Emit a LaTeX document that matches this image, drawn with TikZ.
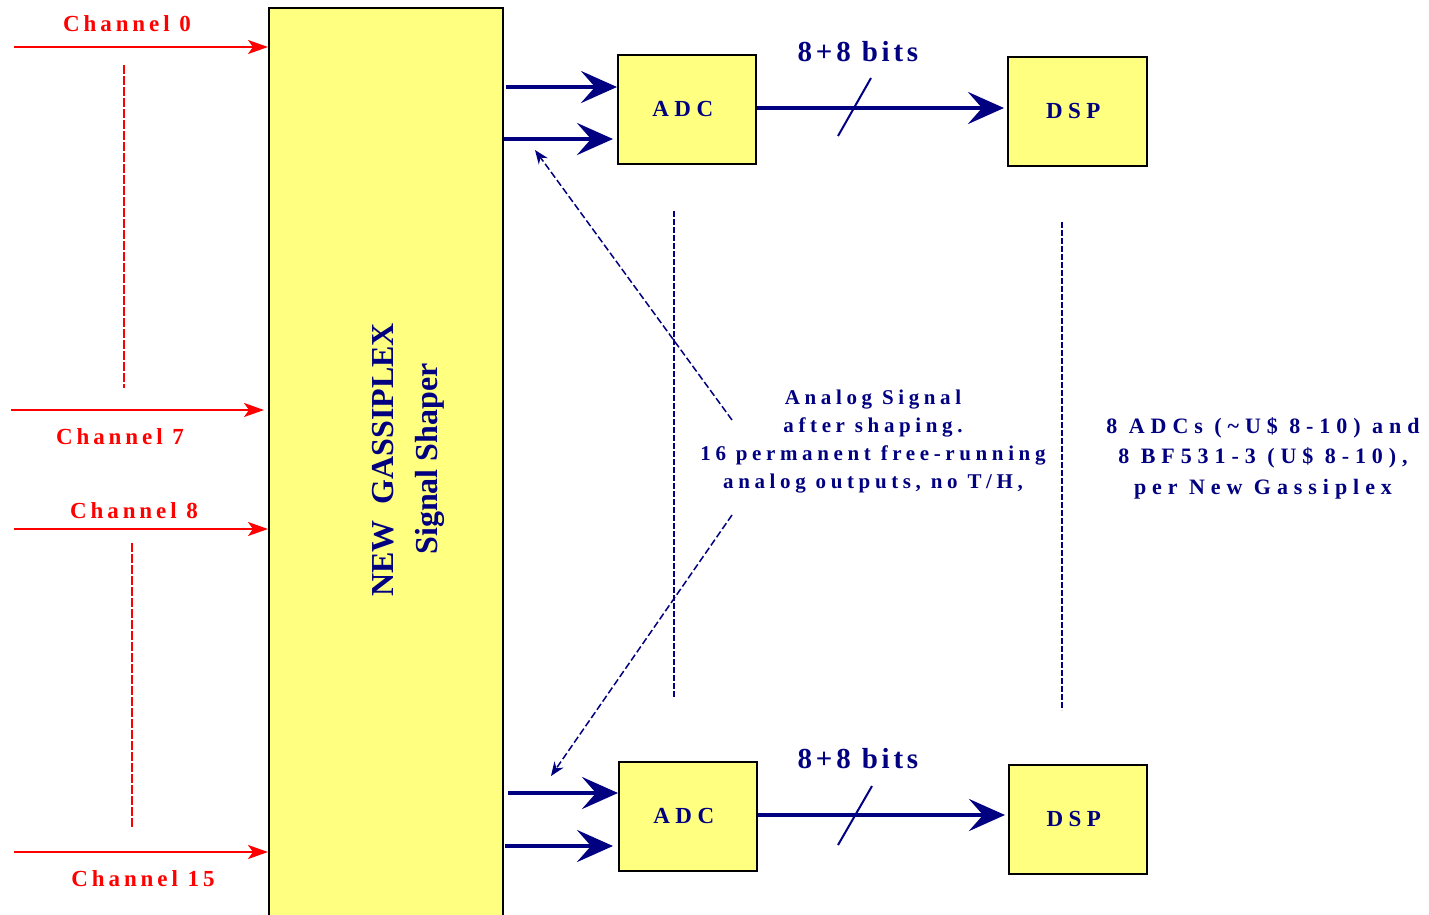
\documentclass[tikz,border=0pt]{standalone}
\usepackage{fontspec}
\setmainfont{Liberation Serif}
\usetikzlibrary{arrows.meta}
\definecolor{navy}{RGB}{0,0,128}
\definecolor{pale}{RGB}{255,255,128}
\begin{document}
\begin{tikzpicture}[x=1pt,y=-1pt,
  box/.style={draw=black, line width=1.5pt, fill=pale, inner sep=0pt, anchor=north west},
  chan/.style={red, line width=2pt, -{Stealth[length=20pt,width=14pt,inset=5pt]}},
  chlabel/.style={text=red, inner sep=0pt, font=\fontsize{23}{26}\selectfont\bfseries\addfontfeature{LetterSpace=17}},
  reddash/.style={red, line width=2.5pt, dash pattern=on 9pt off 2pt},
  bus/.style={navy, line width=4.5pt, -{Stealth[length=36pt,width=32pt,inset=14pt]}},
  slash/.style={navy, line width=2pt},
  navydash/.style={navy, line width=2pt, dash pattern=on 6pt off 2pt},
  dasharrow/.style={navy, line width=1.5pt, dash pattern=on 7pt off 3pt, -{Stealth[length=14pt,width=11pt]}},
  boxtext/.style={text=navy, inner sep=0pt, xshift=-4pt, font=\fontsize{23}{26}\selectfont\bfseries\addfontfeature{LetterSpace=24}},
  bits/.style={text=navy, inner sep=0pt, font=\fontsize{29}{32}\selectfont\bfseries\addfontfeature{LetterSpace=13}},
  note/.style={text=navy, inner sep=0pt, align=center, font=\fontsize{21}{28}\selectfont\bfseries\addfontfeature{LetterSpace=22}},
  rnote/.style={text=navy, inner sep=0pt, align=center, font=\fontsize{22}{30.5}\selectfont\bfseries\addfontfeature{LetterSpace=27}},
  vert/.style={text=navy, inner sep=0pt, rotate=90, font=\fontsize{32}{34}\selectfont\bfseries}
]
\useasboundingbox[fill=white] (0,0) rectangle (1429,914);

% big shaper box
\node[box, minimum width=234pt, minimum height=930pt] (gas) at (268,7) {};
\node[vert] (gasA) at (383,460) {NEW\ \ GASSIPLEX};
\node[vert] (gasB) at (430,459) {Signal Shaper};

% channels
\coordinate (c0) at (14,47);
\coordinate (c7) at (11,410);
\coordinate (c8) at (14,529);
\coordinate (c15) at (14,852);
\draw[chan] (c0) -- (c0 -| gas.west);
\draw[chan] (c7) -- ([xshift=-4pt]c7 -| gas.west);
\draw[chan] (c8) -- (c8 -| gas.west);
\draw[chan] (c15) -- (c15 -| gas.west);
\node[chlabel] (l0) at (127,24) {Channel 0};
\node[chlabel] (l7) at (120,437) {Channel 7};
\node[chlabel] (l8) at (134,511) {Channel 8};
\node[chlabel] (l15) at (143,879) {Channel 15};
\coordinate (d1a) at (124,65);
\coordinate (d1b) at (124,388);
\coordinate (d2a) at (132,543);
\coordinate (d2b) at (132,828);
\draw[reddash] (d1a) -- (d1b);
\draw[reddash] (d2a) -- (d2b);

% top chain
\node[box, minimum width=138pt, minimum height=109pt] (adc1) at (617,54) {};
\node[boxtext] (adc1t) at (adc1.center) {ADC};
\node[box, minimum width=139pt, minimum height=109pt] (dsp1) at (1007,56) {};
\node[boxtext] (dsp1t) at (dsp1.center) {DSP};
\coordinate (a1) at (506,87);
\coordinate (a2) at (504,139);
\draw[bus] (a1) -- (a1 -| adc1.west);
\draw[bus] (a2) -- ([xshift=-4pt]a2 -| adc1.west);
\coordinate (b1) at (adc1.east |- 0,108);
\draw[bus] (b1) -- ([xshift=-3pt]b1 -| dsp1.west);
\coordinate (s1a) at (838,136);
\coordinate (s1b) at (871,78);
\draw[slash] (s1a) -- (s1b);
\node[bits] (bits1) at (858,52) {8+8 bits};

% bottom chain
\node[box, minimum width=138pt, minimum height=109pt] (adc2) at (618,761) {};
\node[boxtext] (adc2t) at (adc2.center) {ADC};
\node[box, minimum width=138pt, minimum height=109pt] (dsp2) at (1008,764) {};
\node[boxtext] (dsp2t) at (dsp2.center) {DSP};
\coordinate (a3) at (508,793);
\coordinate (a4) at (505,846);
\draw[bus] (a3) -- (a3 -| adc2.west);
\draw[bus] (a4) -- ([xshift=-5pt]a4 -| adc2.west);
\coordinate (b2) at (adc2.east |- 0,815);
\draw[bus] (b2) -- ([xshift=-3pt]b2 -| dsp2.west);
\coordinate (s2a) at (838,845);
\coordinate (s2b) at (872,786);
\draw[slash] (s2a) -- (s2b);
\node[bits] (bits2) at (858,759) {8+8 bits};

% vertical dashed separators
\coordinate (v1a) at (674,211);
\coordinate (v1b) at (674,697);
\coordinate (v2a) at (1062,222);
\coordinate (v2b) at (1062,710);
\draw[navydash] (v1a) -- (v1b);
\draw[navydash] (v2a) -- (v2b);

% notes
\node[note] (n1) at (873,442) {Analog Signal\\after shaping.\\16 permanent free-running\\analog outputs, no T/H,};
\node[rnote] (n2) at (1263,458) {8 ADCs (\char"007E U\$ 8-10) and\\8 BF531-3 (U\$ 8-10),\\per New Gassiplex};

% dashed pointers
\coordinate (p1) at (732,420);
\coordinate (q1) at (535,150);
\coordinate (p2) at (732,515);
\coordinate (q2) at (551,776);
\draw[dasharrow] (p1) -- (q1);
\draw[dasharrow] (p2) -- (q2);
\end{tikzpicture}
\end{document}
